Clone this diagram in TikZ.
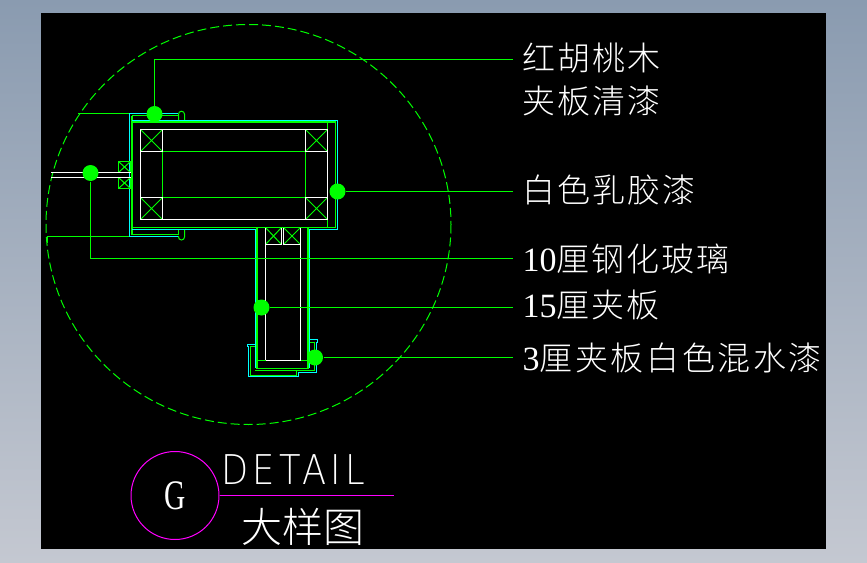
\documentclass[tikz,border=0pt]{standalone}
\usepackage{fontspec}
\newfontfamily\cjk[LetterSpace=6]{Noto Sans CJK SC Light}
\newfontfamily\cjkwide[LetterSpace=8]{Noto Sans CJK SC Light}
\newfontfamily\titlecjk{Noto Sans CJK SC Light}
\newfontfamily\digits{Liberation Serif}
\newfontfamily\detailfont[LetterSpace=12]{DejaVu Sans ExtraLight}
\usetikzlibrary{positioning}
\definecolor{cadgreen}{HTML}{00FF00}
\definecolor{cadcyan}{HTML}{00FFFF}
\definecolor{cadpink}{HTML}{FF00FF}
\definecolor{frametop}{HTML}{8A9BB0}
\definecolor{framebot}{HTML}{C4C8D1}

\begin{document}
\begin{tikzpicture}[x=1pt,y=-1pt,line width=1pt,
    grn/.style={draw=cadgreen},
    cyn/.style={draw=cadcyan},
    wht/.style={draw=white},
    dot/.style={circle,fill=cadgreen,inner sep=0pt,minimum size=16pt},
    leader/.style={draw=cadgreen},
    callout/.style={anchor=west,text=white,inner sep=0pt,inner xsep=9pt,font=\fontsize{33}{33}\selectfont\cjk}]
    \useasboundingbox (0,0) rectangle (867,562);
    \shade[top color=frametop,bottom color=framebot] (0,0) rectangle (867,562);
    \fill[black] (41,13) rectangle (826,549);

    \draw[grn,dash pattern=on 9pt off 4pt] (248.5,224.5) ellipse (202.5 and 200);

    % cap and wall lines
    \draw[grn] (78,113.5) -- (130,113.5);
    \draw[grn] (47,236.5) -- (130,236.5);
    \draw[grn] (47.5,236.5) -- (47.5,243);
    \draw[cyn] (178,113.5) -- (129.5,113.5) -- (129.5,236.5) -- (178,236.5);
    \draw[grn,line width=1.5pt] (132,115.5) -- (132,234.5);
    \draw[grn] (132,115.5) -- (178.5,115.5) -- (178.5,120);
    \draw[grn] (132,234.5) -- (178.5,234.5) -- (178.5,229);
    \draw[grn] (178.5,120) -- (178.5,114.2) arc (180:360:3) -- (184.5,120);
    \draw[grn] (178.5,236) -- (178.5,237) arc (180:0:3) -- (184.5,229);

    % box
    \draw[cyn] (132,120.5) -- (337.5,120.5) -- (337.5,229.5) -- (309,229.5);
    \draw[cyn] (132,229.5) -- (255.5,229.5);
    \draw[grn,line width=1.5pt] (132,122) -- (335.5,122);
    \draw[grn] (335.5,122) -- (335.5,227.5) -- (132,227.5);
    \draw[grn] (327.5,122) -- (327.5,227.5);
    \draw[wht] (327.5,219.5) -- (140.5,219.5) -- (140.5,129.5) -- (327.5,129.5) -- cycle;
    \draw[grn] (162.5,151.5) -- (305.5,151.5);
    \draw[grn] (162.5,197.5) -- (305.5,197.5);
    \draw[grn] (162.5,151.5) -- (162.5,197.5);
    \draw[grn] (305.5,151.5) -- (305.5,197.5);

    % blocks
    \foreach \xa/\ya/\xb/\yb in {140.5/129.5/162.5/151.5, 140.5/197.5/162.5/219.5, 305.5/129.5/327.5/151.5, 305.5/197.5/327.5/219.5, 265.5/227.5/281.5/244.5, 283.5/227.5/300.5/244.5}{
        \draw[grn] (\xa,\ya) -- (\xb,\yb) (\xa,\yb) -- (\xb,\ya);
        \draw[wht] (\xa,\ya) rectangle (\xb,\yb);
    }
    \foreach \ya/\yb in {161.5/172.5, 177.5/188.5}{
        \draw[grn] (118.5,\ya) rectangle (130.5,\yb);
        \draw[grn] (118.5,\ya) -- (130.5,\yb) (118.5,\yb) -- (130.5,\ya);
    }
    \draw[wht] (51,172.5) -- (131,172.5);
    \draw[wht] (51,177.5) -- (131,177.5);

    % stem
    \draw[cyn] (255.5,229.5) -- (255.5,368);
    \draw[cyn] (309.5,229.5) -- (309.5,368);
    \draw[grn,line width=1.5pt] (257,228) -- (257,368.5) -- (308,368.5) -- (308,228);
    \draw[grn] (256,227.5) -- (309,227.5);
    \draw[wht] (265.5,244.5) -- (265.5,360.5) -- (300.5,360.5) -- (300.5,244.5);
    \draw[grn] (256,360.5) -- (265.5,360.5) (300.5,360.5) -- (309,360.5);

    % bottom cap
    \draw[cyn] (255,344.5) -- (247.5,344.5) -- (247.5,346.5) -- (248.5,346.5) -- (248.5,376.5) -- (298.5,376.5) -- (298.5,372.5) -- (316.5,372.5) -- (316.5,342.5) -- (317.5,342.5) -- (317.5,339.5) -- (309.5,339.5);
    \draw[grn] (255,346.5) -- (250.5,346.5) -- (250.5,375) -- (296.5,375) -- (296.5,370.5) -- (314.5,370.5) -- (314.5,342.5) -- (309.5,342.5);
    \draw[grn] (255,370.5) -- (296.5,370.5);

    % leaders
    \node[dot] (dotwalnut) at (154.5,114) {};
    \node[dot] (dotglass) at (90.5,173) {};
    \node[dot] (dotlatex) at (337.5,191.5) {};
    \node[dot] (dotply) at (261.5,307.5) {};
    \node[dot] (dotpaint) at (315,357.5) {};

    \node[callout] (walnut) at (513,58.5) {红胡桃木};
    \node[callout] (walnutb) at (513,101) {夹板清漆};
    \node[callout] (latex) at (513,190.5) {白色乳胶漆};
    \node[callout] (glass) at (513,258.5) {{\digits\fontsize{34}{34}\selectfont 10}厘钢化玻璃};
    \node[callout] (ply) at (513,305) {{\digits\fontsize{34}{34}\selectfont 15}厘夹板};
    \node[callout,font=\fontsize{33}{33}\selectfont\cjkwide] (paint) at (513,358) {{\digits\fontsize{34}{34}\selectfont 3}厘夹板白色混水漆};

    \draw[leader] (dotwalnut) |- ([yshift=-1pt]walnut.west);
    \draw[leader] (dotlatex) -- (dotlatex -| latex.west);
    \draw[leader] (dotglass) |- (glass.west);
    \draw[leader] (dotply) -- (dotply -| ply.west);
    \draw[leader] (dotpaint) -- (dotpaint -| paint.west);

    % title
    \node[circle,draw=cadpink,inner sep=0pt,minimum size=88pt] (mark) at (175,495.5) {};
    \node[text=white,font=\fontsize{42}{42}\selectfont\digits,xscale=.7,transform shape] (letter) at (mark.center) {G};
    \coordinate (ruleend) at (394,495.5);
    \draw[draw=cadpink] (mark) -- (ruleend);
    \node[text=white,anchor=west,inner sep=0pt,font=\fontsize{41}{41}\selectfont\detailfont,xscale=.86,transform shape] (detail) at (221,470) {DETAIL};
    \node[text=white,inner sep=0pt,font=\fontsize{41}{41}\selectfont\titlecjk] (title) at (303,526.5) {大样图};
\end{tikzpicture}
\end{document}
